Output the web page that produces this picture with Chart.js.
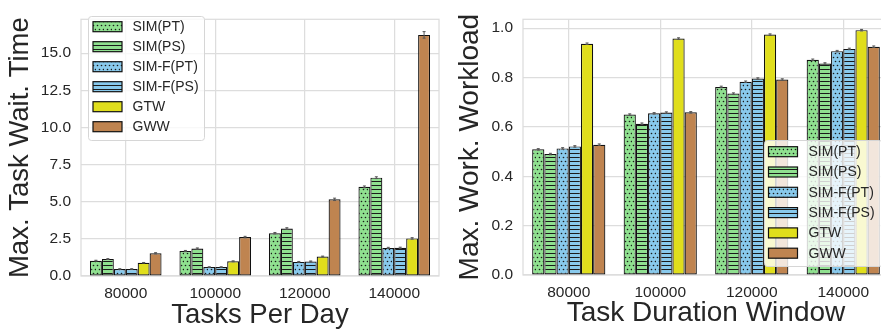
<!DOCTYPE html>
<html><head><meta charset="utf-8">
<script src="https://cdn.jsdelivr.net/npm/chart.js@4/dist/chart.umd.min.js"></script>
<style>
html,body{margin:0;padding:0;width:881px;height:332px;overflow:hidden;background:#fff}
#c1{position:absolute;left:0;top:0}
#c2{position:absolute;left:440px;top:0}
</style></head><body>
<canvas id="c1" width="440" height="332"></canvas>
<canvas id="c2" width="450" height="332"></canvas>
<script>
// ---------- data ----------
const categories = ['80000', '100000', '120000', '140000'];
const seriesNames = ['SIM(PT)', 'SIM(PS)', 'SIM-F(PT)', 'SIM-F(PS)', 'GTW', 'GWW'];

// Left: Max. Task Wait. Time vs Tasks Per Day
const waitSimPT  = [1.03, 1.68, 2.88, 6.00];
const waitSimPS  = [1.14, 1.85, 3.20, 6.62];
const waitSimFPT = [0.47, 0.60, 0.95, 1.89];
const waitSimFPS = [0.47, 0.60, 0.98, 1.90];
const waitGTW    = [0.89, 0.99, 1.31, 2.53];
const waitGWW    = [1.53, 2.62, 5.16, 16.23];
const waitErr = [
  [0.03, 0.04, 0.05, 0.06],
  [0.03, 0.04, 0.05, 0.06],
  [0.02, 0.02, 0.03, 0.04],
  [0.02, 0.02, 0.03, 0.04],
  [0.02, 0.03, 0.03, 0.05],
  [0.04, 0.05, 0.08, 0.22]
];
const waitTicks = ['0.0', '2.5', '5.0', '7.5', '10.0', '12.5', '15.0'];

// Right: Max. Work. Workload vs Task Duration Window
const loadSimPT  = [0.509, 0.650, 0.762, 0.872];
const loadSimPS  = [0.490, 0.613, 0.735, 0.857];
const loadSimFPT = [0.513, 0.655, 0.783, 0.907];
const loadSimFPS = [0.521, 0.658, 0.796, 0.916];
const loadGTW    = [0.937, 0.958, 0.974, 0.992];
const loadGWW    = [0.528, 0.659, 0.792, 0.925];
const loadErr = [
  [0.003, 0.003, 0.003, 0.003],
  [0.003, 0.003, 0.003, 0.003],
  [0.003, 0.003, 0.003, 0.003],
  [0.003, 0.003, 0.003, 0.003],
  [0.003, 0.003, 0.003, 0.003],
  [0.003, 0.003, 0.003, 0.003]
];
const loadTicks = ['0.0', '0.2', '0.4', '0.6', '0.8', '1.0'];

// ---------- styles ----------
const GREEN = '#8fe08f', BLUE = '#88c9ec', YELLOW = '#e0de1c', BROWN = '#bf8450';
const FONT = '"Liberation Sans", Arial, sans-serif';
const TXT = '#262626';
const GRID = '#dddddd';

function dotPattern(bg) {
  const c = document.createElement('canvas'); c.width = 8; c.height = 8;
  const g = c.getContext('2d');
  g.fillStyle = bg; g.fillRect(0, 0, 8, 8);
  g.fillStyle = '#1a1a1a';
  [[1,1],[5,1],[3,5],[7,5]].forEach(([x,y]) => { g.beginPath(); g.arc(x+0.5, y+0.5, 0.8, 0, Math.PI*2); g.fill(); });
  return g.createPattern(c, 'repeat');
}
function linePattern(bg) {
  const c = document.createElement('canvas'); c.width = 4; c.height = 4;
  const g = c.getContext('2d');
  g.fillStyle = bg; g.fillRect(0, 0, 4, 4);
  g.fillStyle = '#1a1a1a'; g.fillRect(0, 1, 4, 1);
  return g.createPattern(c, 'repeat');
}
const fills = [dotPattern(GREEN), linePattern(GREEN), dotPattern(BLUE), linePattern(BLUE), YELLOW, BROWN];

// ---------- plugins ----------
const framePlugin = {
  id: 'frame',
  beforeDatasetsDraw(chart) {
    const {ctx, chartArea: a} = chart;
    ctx.save(); ctx.strokeStyle = GRID; ctx.lineWidth = 1.25;
    ctx.strokeRect(a.left, a.top, a.right - a.left, a.bottom - a.top);
    ctx.restore();
  }
};
const errPlugin = {
  id: 'errbars',
  afterDatasetsDraw(chart, args, opts) {
    const {ctx} = chart; const ys = chart.scales.y;
    ctx.save(); ctx.strokeStyle = '#555'; ctx.lineWidth = 1;
    chart.data.datasets.forEach((ds, i) => {
      const meta = chart.getDatasetMeta(i);
      meta.data.forEach((bar, j) => {
        const v = ds.data[j], e = opts.errors[i][j];
        const y1 = ys.getPixelForValue(v - e), y2 = ys.getPixelForValue(v + e);
        ctx.beginPath();
        ctx.moveTo(bar.x, y1); ctx.lineTo(bar.x, y2);
        ctx.moveTo(bar.x - 1.5, y1); ctx.lineTo(bar.x + 1.5, y1);
        ctx.moveTo(bar.x - 1.5, y2); ctx.lineTo(bar.x + 1.5, y2);
        ctx.stroke();
      });
    });
    ctx.restore();
  }
};
const legendPlugin = {
  id: 'boxLegend',
  afterDraw(chart, args, o) {
    const {ctx} = chart;
    ctx.save();
    ctx.beginPath();
    ctx.roundRect(o.x, o.y, o.w, o.h, 3);
    ctx.fillStyle = 'rgba(255,255,255,0.8)'; ctx.fill();
    ctx.strokeStyle = '#d6d6d6'; ctx.lineWidth = 1; ctx.stroke();
    ctx.font = '14px ' + FONT; ctx.textBaseline = 'middle'; ctx.textAlign = 'left';
    chart.data.datasets.forEach((ds, i) => {
      const cy = o.rowY + i * o.rowGap;
      ctx.fillStyle = ds.backgroundColor;
      ctx.fillRect(o.swX, cy - 5, 29, 10);
      ctx.strokeStyle = '#111'; ctx.lineWidth = 1.2;
      ctx.strokeRect(o.swX, cy - 5, 29, 10);
      ctx.fillStyle = TXT;
      ctx.fillText(ds.label, o.textX, cy + 0.5);
    });
    ctx.restore();
  }
};

function makeChart(id, series, errors, yMax, step, tickLabels, yTitle, xTitle, layout, legendOpts) {
  return new Chart(document.getElementById(id), {
    type: 'bar',
    data: {
      labels: categories,
      datasets: series.map((d, i) => ({
        label: seriesNames[i], data: d, backgroundColor: fills[i],
        borderColor: '#111', borderWidth: 1.2, borderSkipped: false,
        categoryPercentage: 0.8, barPercentage: 1.0
      }))
    },
    options: {
      responsive: false, animation: false, devicePixelRatio: 1,
      layout: {padding: layout.padding},
      plugins: {
        legend: {display: false}, tooltip: {enabled: false},
        errbars: {errors: errors},
        boxLegend: legendOpts
      },
      scales: {
        x: {
          offset: true,
          grid: {color: GRID, lineWidth: 1.25, offset: false, drawTicks: false},
          border: {display: false},
          ticks: {color: TXT, font: {family: FONT, size: 15.5}, padding: layout.xTickPad, maxRotation: 0},
          title: {display: true, text: xTitle, color: TXT, font: {family: FONT, size: layout.titleSize}, padding: {top: 0, bottom: layout.xTitlePad}},
          afterFit(s) { s.height = layout.xHeight; }
        },
        y: {
          min: 0, max: yMax,
          grid: {color: GRID, lineWidth: 1.25, drawTicks: false},
          border: {display: false},
          ticks: {stepSize: step, includeBounds: false, color: TXT, font: {family: FONT, size: 15.5}, padding: 10,
                  callback: (v, i) => tickLabels[i]},
          title: {display: true, text: yTitle, color: TXT, font: {family: FONT, size: layout.titleSize}, padding: {top: layout.yTitlePad, bottom: 0}},
          afterFit(s) { s.width = layout.yWidth; }
        }
      }
    },
    plugins: [framePlugin, errPlugin, legendPlugin]
  });
}

makeChart('c1',
  [waitSimPT, waitSimPS, waitSimFPT, waitSimFPS, waitGTW, waitGWW], waitErr,
  17.28, 2.5, waitTicks, 'Max. Task Wait. Time', 'Tasks Per Day',
  {padding: {left: 0, right: 1, top: 8, bottom: 0}, xTickPad: 8, xTitlePad: 0.5, titleSize: 27.5, yTitlePad: 3.5, yWidth: 81, xHeight: 56},
  {x: 88.5, y: 16.5, w: 116, h: 124, rowY: 26.7, rowGap: 20, swX: 93, textX: 132.5});

makeChart('c2',
  [loadSimPT, loadSimPS, loadSimFPT, loadSimFPS, loadGTW, loadGWW], loadErr,
  1.036, 0.2, loadTicks, 'Max. Work. Workload', 'Task Duration Window',
  {padding: {left: 0, right: 1, top: 3, bottom: 0}, xTickPad: 8, xTitlePad: 1.5, titleSize: 28, yTitlePad: 13.5, yWidth: 83, xHeight: 57},
  {x: 324.5, y: 140.5, w: 118, h: 126, rowY: 151.7, rowGap: 20.3, swX: 328.5, textX: 368.5});
</script>
</body></html>
